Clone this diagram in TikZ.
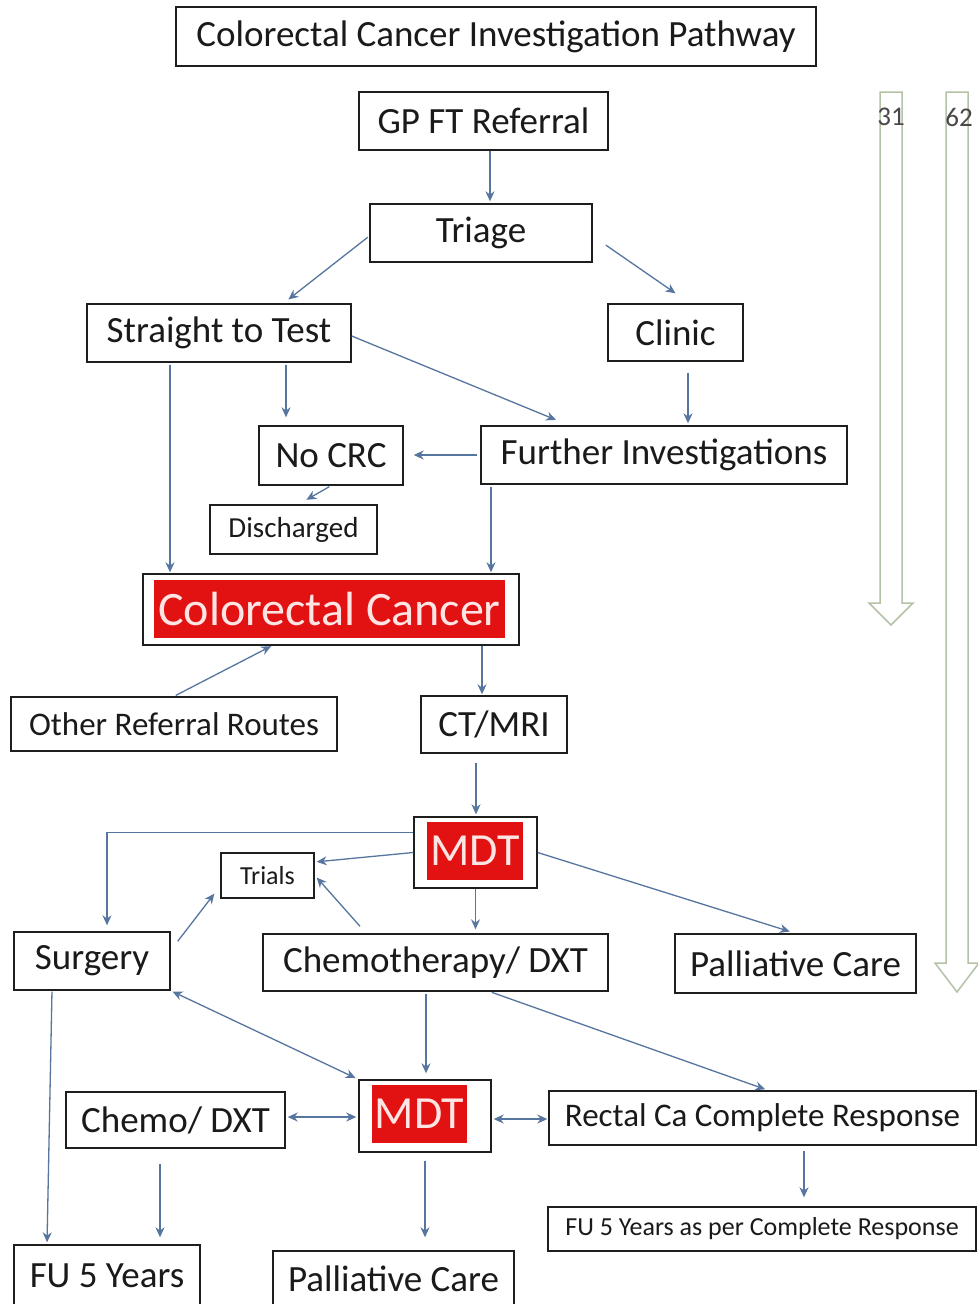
\documentclass[tikz,border=0pt]{standalone}
\usepackage{fontspec}
\setmainfont{Carlito}
\usetikzlibrary{arrows.meta,calc}
\definecolor{bordc}{HTML}{1E1E1E}
\definecolor{arrc}{HTML}{56759F}
\definecolor{redc}{HTML}{E31212}
\definecolor{pinkc}{HTML}{FFE4E4}
\definecolor{blockc}{HTML}{B4C2A6}
\definecolor{txtc}{HTML}{1A1A1A}
\tikzset{
  box/.style={draw=bordc,line width=1.4pt,inner sep=0pt,text=txtc,font=\fontsize{37}{42}\selectfont},
  redbox/.style={fill=redc,inner sep=0pt,text=pinkc},
  arr/.style={draw=arrc,line width=1.3pt,-{Stealth[length=10pt,width=9pt]}},
  darr/.style={draw=arrc,line width=1.3pt,{Stealth[length=10pt,width=9pt]}-{Stealth[length=10pt,width=9pt]}},
  blockarrow/.style={draw=blockc,line width=1.5pt},
}
\begin{document}
\begin{tikzpicture}[x=1pt,y=-1pt]
\clip (0,0) rectangle (978,1304);
\fill[white] (0,0) rectangle (978,1304);
% nodes
\node[box,minimum width=640pt,minimum height=59pt] (title) at (496,36.5) {Colorectal Cancer Investigation Pathway};
\node[box,minimum width=249pt,minimum height=58pt] (gp) at (483.5,121) {GP FT Referral};
\node[box,minimum width=222pt,minimum height=58pt] (triage) at (481,233) {Triage};
\node[box,minimum width=264pt,minimum height=58pt] (stt) at (219,333) {Straight to Test};
\node[box,minimum width=135pt,minimum height=57pt] (clinic) at (675.5,332.5) {Clinic};
\node[box,minimum width=144pt,minimum height=59pt] (nocrc) at (331,455.5) {No CRC};
\node[box,minimum width=366pt,minimum height=58pt] (further) at (664,455) {Further Investigations};
\node[box,minimum width=167pt,minimum height=49pt,font=\fontsize{29}{34}\selectfont] (disch) at (293.5,529.5) {Discharged};
\node[box,minimum width=376pt,minimum height=71pt] (crc) at (331,609.5) {};
\node[redbox,minimum width=351pt,minimum height=58pt,font=\fontsize{48}{52}\selectfont] (crctext) at (329.5,609) {Colorectal Cancer};
\node[box,minimum width=326pt,minimum height=54pt,font=\fontsize{33}{37}\selectfont] (other) at (174,724) {Other Referral Routes};
\node[box,minimum width=146pt,minimum height=57pt] (ctmri) at (494,724.5) {CT/MRI};
\node[box,minimum width=123pt,minimum height=71pt] (mdt1) at (475.5,852.5) {};
\node[redbox,minimum width=96pt,minimum height=58pt,font=\fontsize{46}{50}\selectfont] (mdt1text) at (475,851) {MDT};
\node[box,minimum width=93pt,minimum height=45pt,font=\fontsize{26}{30}\selectfont] (trials) at (267.5,875.5) {Trials};
\node[box,minimum width=156pt,minimum height=58pt] (surgery) at (92,961) {Surgery};
\node[box,minimum width=345pt,minimum height=57pt] (chemo) at (435.5,962.5) {Chemotherapy/ DXT};
\node[box,minimum width=241pt,minimum height=59pt] (pall1) at (795.5,963.5) {Palliative Care};
\node[box,minimum width=219pt,minimum height=56pt] (chemo2) at (175.5,1120) {Chemo/ DXT};
\node[box,minimum width=132pt,minimum height=72pt] (mdt2) at (425,1116) {};
\node[redbox,minimum width=95pt,minimum height=58pt,font=\fontsize{46}{50}\selectfont] (mdt2text) at (419.5,1114) {MDT};
\node[box,minimum width=427pt,minimum height=54pt,font=\fontsize{33}{37}\selectfont] (rectal) at (762.5,1118) {Rectal Ca Complete Response};
\node[box,minimum width=428pt,minimum height=44pt,font=\fontsize{26}{30}\selectfont] (fucr) at (762,1229) {FU 5 Years as per Complete Response};
\node[box,minimum width=186pt,minimum height=61pt] (fu5) at (107,1275.5) {FU 5 Years};
\node[box,minimum width=241pt,minimum height=55pt] (pall2) at (393.5,1278.5) {Palliative Care};
% block arrows
\draw[blockarrow] (880,92) -- (880,603) -- (869,603) -- (891,625) -- (913,603) -- (902,603) -- (902,92) -- cycle;
\draw[blockarrow] (946,92) -- (946,963) -- (935,963) -- (957,992) -- (979,963) -- (968,963) -- (968,92) -- cycle;
\node[font=\fontsize{27}{30}\selectfont,text=txtc!80] (n31) at (891,117) {31};
\node[font=\fontsize{27}{30}\selectfont,text=txtc!80] (n62) at (959,117) {62};
% connectors
\draw[arr,shorten >=2pt] ([xshift=6.5pt]gp.south) -- ([xshift=6.5pt]gp.south |- triage.north);
\draw[arr,shorten <=2pt,shorten >=3pt] ([yshift=-3pt]triage.west) -- ([xshift=67pt,yshift=2pt]stt.north);
\draw[arr,shorten <=16pt] ([yshift=-3pt]triage.east) -- ([yshift=10pt]clinic.north);
\draw[arr,shorten <=2pt,shorten >=8pt] ([xshift=67pt]stt.south) -- ([xshift=67pt]stt.south |- nocrc.north);
\draw[arr,shorten >=1pt] ([yshift=-3pt]stt.east) -- ([xshift=-107pt,yshift=5pt]further.north);
\draw[arr,shorten <=11pt,shorten >=2pt] ([xshift=12.5pt]clinic.south) -- ([xshift=12.5pt]clinic.south |- further.north);
\draw[arr,shorten <=3pt,shorten >=10pt] (further.west) -- (further.west -| nocrc.east);
\draw[arr,shorten <=2pt,shorten >=1pt] (nocrc.south) -- ([xshift=12pt,yshift=4pt]disch.north);
\draw[arr,shorten <=2pt,shorten >=1pt] ([xshift=-49pt]stt.south) -- ([xshift=-49pt]stt.south |- crc.north);
\draw[arr,shorten <=2pt,shorten >=1pt] ([xshift=-173pt]further.south) -- ([xshift=-173pt]further.south |- crc.north);
\draw[arr,shorten <=2pt,shorten >=1pt] (other.north) -- ([xshift=-59pt]crc.south);
\draw[arr,shorten >=1pt] ([xshift=151pt]crc.south) -- ([xshift=151pt]crc.south |- ctmri.north);
\draw[arr,shorten <=9pt,shorten >=2pt] ([xshift=-18pt]ctmri.south) -- ([xshift=-18pt]ctmri.south |- mdt1.north);
\draw[arr,shorten >=6pt] ([yshift=20pt]mdt1.west) -| ([xshift=15pt]surgery.north);
\draw[arr,shorten >=2pt] (mdt1.west) -- ([yshift=13.5pt]trials.east);
\draw[arr,shorten >=4pt] (mdt1.south) -- (mdt1.south |- chemo.north);
\draw[arr,shorten >=6pt] (mdt1.east) -- (pall1.north);
\draw[arr] ([xshift=7pt,yshift=-10pt]surgery.north east) -- ([xshift=-6pt,yshift=5pt]trials.south west);
\draw[arr] ([xshift=-75.5pt,yshift=7pt]chemo.north) -- ([xshift=2pt,yshift=-2pt]trials.east);
\draw[darr,shorten <=2pt,shorten >=3pt] (surgery.south east) -- (mdt2.north west);
\draw[arr,shorten <=2pt,shorten >=6pt] ([xshift=-9.5pt]chemo.south) -- ([xshift=-9.5pt]chemo.south |- mdt2.north);
\draw[arr,shorten <=2pt,shorten >=3pt] ([xshift=54.5pt]chemo.south) -- ([xshift=5.5pt]rectal.north);
\draw[darr,shorten <=2pt,shorten >=2pt] ([yshift=3pt]chemo2.east) -- ([yshift=3pt]chemo2.east -| mdt2.west);
\draw[darr,shorten <=2pt,shorten >=1pt] ([yshift=-3pt]mdt2.east) -- ([yshift=-3pt]mdt2.east -| rectal.west);
\draw[arr,shorten <=8pt,shorten >=13pt] (mdt2.south) -- (mdt2.south |- pall2.north);
\draw[arr,shorten <=15pt,shorten >=7pt] ([xshift=-15.5pt]chemo2.south) -- ([xshift=-15.5pt]chemo2.south |- fu5.north);
\draw[arr,shorten <=1pt,shorten >=2pt] ([xshift=-40pt]surgery.south) -- ([xshift=-60pt]fu5.north);
\draw[arr,shorten <=5pt,shorten >=9pt] ([xshift=41.5pt]rectal.south) -- ([xshift=41.5pt]rectal.south |- fucr.north);
\end{tikzpicture}
\end{document}
